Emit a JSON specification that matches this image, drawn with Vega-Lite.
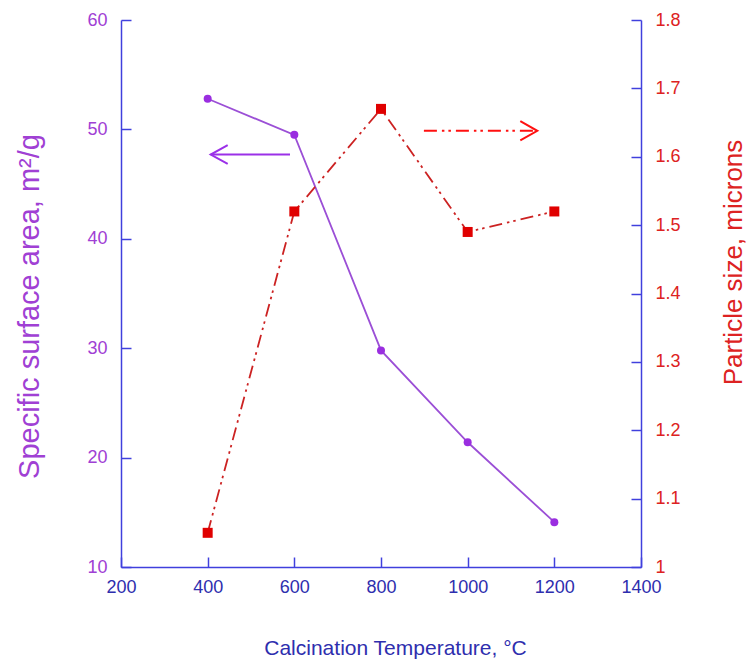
{
  "$schema": "https://vega.github.io/schema/vega-lite/v6.json",
  "autosize": "none",
  "width": 520,
  "height": 547,
  "padding": {"left": 121, "top": 20, "right": 107, "bottom": 96},
  "background": "white",
  "config": {
    "view": {"stroke": null},
    "font": "Liberation Sans",
    "axis": {"grid": false, "labelFont": "Liberation Sans", "titleFont": "Liberation Sans", "titleFontWeight": "normal", "domainColor": "#4040dd", "tickColor": "#4040dd", "domainWidth": 1.5, "tickWidth": 1.5}
  },
  "datasets": {
    "sa": [
      {"t": 400, "v": 52.8},
      {"t": 600, "v": 49.5},
      {"t": 800, "v": 29.8},
      {"t": 1000, "v": 21.4},
      {"t": 1200, "v": 14.1}
    ],
    "ps": [
      {"t": 400, "v": 1.05},
      {"t": 600, "v": 1.52},
      {"t": 800, "v": 1.67},
      {"t": 1000, "v": 1.49},
      {"t": 1200, "v": 1.52}
    ],
    "arrowL": [{"x1": 590, "x2": 407, "v": 47.7}],
    "arrowR": [{"x1": 899, "x2": 1160.7, "v": 1.638}]
  },
  "encoding": {
    "x": {
      "field": "t", "type": "quantitative",
      "scale": {"domain": [200, 1400], "nice": false, "zero": false},
      "axis": {"values": [200, 400, 600, 800, 1000, 1200, 1400], "format": "d", "title": "Calcination Temperature, °C", "tickSize": -10, "labelPadding": 21, "labelFontSize": 18, "labelColor": "#2e2eae", "titleFontSize": 21, "titleColor": "#2e2eae", "titlePadding": 41, "titleX": 274, "labelFlush": false}
    }
  },
  "layer": [
    {
      "layer": [
        {
          "data": {"name": "sa"},
          "mark": {"type": "line", "color": "#9b4fd6", "strokeWidth": 1.8},
          "encoding": {
            "y": {"field": "v", "type": "quantitative", "scale": {"domain": [10, 60], "nice": false, "zero": false},
              "axis": {"orient": "left", "values": [10, 20, 30, 40, 50, 60], "title": "Specific surface area, m²/g", "tickSize": -10, "labelPadding": 24, "labelFontSize": 18, "labelColor": "#a040d4", "titleFontSize": 29, "titleColor": "#a040d4", "titlePadding": 42, "titleY": 286}}
          }
        },
        {
          "data": {"name": "sa"},
          "mark": {"type": "point", "filled": true, "shape": "circle", "size": 64, "color": "#9a2ee0", "opacity": 1},
          "encoding": {"y": {"field": "v", "type": "quantitative", "title": "Specific surface area, m²/g"}}
        },
        {
          "data": {"name": "arrowL"},
          "mark": {"type": "rule", "color": "#9b30e8", "strokeWidth": 2},
          "encoding": {"x": {"field": "x1", "type": "quantitative"}, "x2": {"field": "x2"}, "y": {"field": "v", "type": "quantitative", "title": "Specific surface area, m²/g"}}
        },
        {
          "data": {"name": "arrowL"},
          "mark": {"type": "point", "filled": false, "shape": "M1,-0.55L0,0L1,0.55", "size": 1156, "color": "#9b30e8", "strokeWidth": 2, "opacity": 1},
          "encoding": {"x": {"field": "x2", "type": "quantitative"}, "y": {"field": "v", "type": "quantitative", "title": "Specific surface area, m²/g"}}
        }
      ]
    },
    {
      "layer": [
        {
          "data": {"name": "ps"},
          "mark": {"type": "line", "color": "#cc2222", "strokeWidth": 1.8, "strokeDash": [13, 5, 2.5, 4, 2.5, 5]},
          "encoding": {
            "y": {"field": "v", "type": "quantitative", "scale": {"domain": [1, 1.8], "nice": false, "zero": false},
              "axis": {"orient": "right", "values": [1, 1.1, 1.2, 1.3, 1.4, 1.5, 1.6, 1.7, 1.8], "format": "~g", "title": "Particle size, microns", "titleAngle": 270, "tickSize": -10, "labelPadding": 24, "labelFontSize": 18, "labelColor": "#dd2222", "titleFontSize": 26, "titleColor": "#dd2222", "titlePadding": 66, "titleY": 242}}
          }
        },
        {
          "data": {"name": "ps"},
          "mark": {"type": "point", "filled": true, "shape": "square", "size": 100, "color": "#e00000", "opacity": 1},
          "encoding": {"y": {"field": "v", "type": "quantitative", "title": "Particle size, microns"}}
        },
        {
          "data": {"name": "arrowR"},
          "mark": {"type": "rule", "color": "#ff1010", "strokeWidth": 2, "strokeDash": [13, 5, 2.5, 4, 2.5, 5]},
          "encoding": {"x": {"field": "x1", "type": "quantitative"}, "x2": {"field": "x2"}, "y": {"field": "v", "type": "quantitative", "title": "Particle size, microns"}}
        },
        {
          "data": {"name": "arrowR"},
          "mark": {"type": "point", "filled": false, "shape": "M-1,-0.57L0,0L-1,0.57", "size": 1156, "color": "#ff1010", "strokeWidth": 2, "opacity": 1},
          "encoding": {"x": {"field": "x2", "type": "quantitative"}, "y": {"field": "v", "type": "quantitative", "title": "Particle size, microns"}}
        }
      ]
    }
  ],
  "resolve": {"scale": {"y": "independent"}}
}
